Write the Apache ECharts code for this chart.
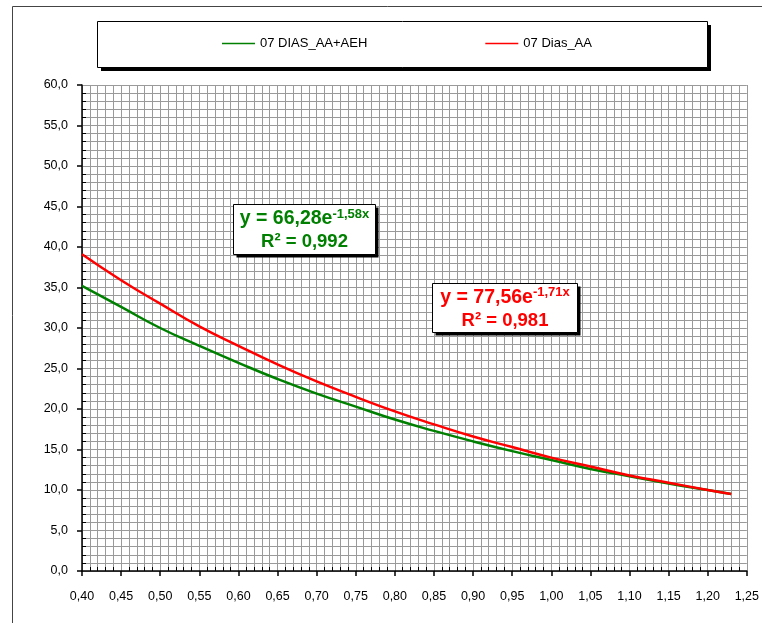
<!DOCTYPE html>
<html>
<head>
<meta charset="utf-8">
<script src="https://cdn.jsdelivr.net/npm/echarts@6/dist/echarts.min.js"></script>
<style>
  html, body { margin: 0; padding: 0; background: #fff; }
  #chart { width: 762px; height: 623px; }
</style>
</head>
<body>
<div id="chart"></div>
<script>
// Dose (x) and measured value (y) for the two series
const xValues = [0.40, 0.45, 0.50, 0.55, 0.60, 0.65, 0.70, 0.75, 0.80, 0.85, 0.90, 0.95, 1.00, 1.05, 1.10, 1.15, 1.20, 1.23];
const diasAaAeh = [35.2, 32.6, 30.0, 27.8, 25.7, 23.7, 21.9, 20.3, 18.7, 17.3, 16.0, 14.8, 13.7, 12.6, 11.7, 10.8, 10.0, 9.5];
const diasAa    = [39.1, 35.9, 33.0, 30.2, 27.8, 25.5, 23.4, 21.5, 19.7, 18.1, 16.6, 15.3, 14.0, 12.9, 11.8, 10.9, 10.0, 9.5];

const seriesNames = ['07 DIAS_AA+AEH', '07 Dias_AA'];
const seriesColors = ['#008000', '#ff0000'];

// Trendline captions
const fitGreen = { coef: '66,28', exp: '-1,58x', r2: '0,992' };
const fitRed   = { coef: '77,56', exp: '-1,71x', r2: '0,981' };

const xMin = 0.40, xMax = 1.25, xStep = 0.05;
const yMin = 0, yMax = 60, yStep = 5;

const pairs = (ys) => xValues.map((x, i) => [x, ys[i]]);
const commaFmt = (d) => (v) => v.toFixed(d).replace('.', ',');

const chart = echarts.init(document.getElementById('chart'), null, { renderer: 'canvas' });

const gridLine = { show: true, lineStyle: { color: '#9a9a9a', width: 1 } };
const fontFamily = 'Liberation Sans, Arial, sans-serif';

function equationBox(x, y, w, h, color, fit) {
  const bold = { fontFamily: fontFamily, fontWeight: 'bold', fill: color, lineHeight: 23 };
  return {
    type: 'group',
    left: x, top: y,
    z: 100,
    children: [
      { type: 'rect', z: 100, shape: { x: 3, y: 3, width: w, height: h }, style: { fill: '#000' } },
      { type: 'rect', z: 101, shape: { x: 0, y: 0, width: w, height: h }, style: { fill: '#fff', stroke: '#000', lineWidth: 1 } },
      {
        type: 'text', z: 102,
        x: w / 2, y: h / 2 + 1,
        style: {
          text: '{a|y = ' + fit.coef + 'e}{s|' + fit.exp + '}\n{b|R² = ' + fit.r2 + '}',
          align: 'center', verticalAlign: 'middle',
          rich: {
            a: Object.assign({ fontSize: 19.5 }, bold),
            b: Object.assign({ fontSize: 18.5 }, bold),
            s: Object.assign({ fontSize: 13, verticalAlign: 'top', padding: [0, 0, 7, 0] }, bold)
          }
        }
      }
    ]
  };
}

chart.setOption({
  animation: false,
  backgroundColor: '#fff',
  grid: { left: 82, right: 13, top: 85, bottom: 52, containLabel: false },
  legend: {
    left: 222, top: 37,
    padding: 0,
    icon: 'rect',
    itemWidth: 33, itemHeight: 1.5, itemGap: 118,
    textStyle: { fontFamily: fontFamily, fontSize: 13, color: '#000' },
    data: seriesNames
  },
  xAxis: [
    {
      type: 'value', min: xMin, max: xMax, interval: xStep, position: 'bottom',
      axisLine: { show: true, onZero: false, lineStyle: { color: '#000', width: 1.5 } },
      axisTick: { show: true, inside: false, length: 5, lineStyle: { color: '#000', width: 1.5 } },
      axisLabel: { margin: 19, color: '#000', fontFamily: fontFamily, fontSize: 12.5, formatter: commaFmt(2) },
      splitLine: gridLine,
      minorTick: { show: false, splitNumber: 5 },
      minorSplitLine: gridLine
    },
    {
      type: 'value', min: xMin, max: xMax, interval: xStep, position: 'bottom',
      axisLine: { show: false, onZero: false },
      axisTick: { show: false, inside: true },
      axisLabel: { show: false },
      splitLine: { show: false },
      minorTick: { show: true, splitNumber: 5, length: 4, lineStyle: { color: '#000', width: 1 } }
    }
  ],
  yAxis: [
    {
      type: 'value', min: yMin, max: yMax, interval: yStep, position: 'left',
      axisLine: { show: true, onZero: false, lineStyle: { color: '#000', width: 1.5 } },
      axisTick: { show: true, inside: false, length: 5, lineStyle: { color: '#000', width: 1.5 } },
      axisLabel: { margin: 14, color: '#000', fontFamily: fontFamily, fontSize: 12.5, formatter: commaFmt(1) },
      splitLine: gridLine,
      minorTick: { show: false, splitNumber: 5 },
      minorSplitLine: gridLine
    },
    {
      type: 'value', min: yMin, max: yMax, interval: yStep, position: 'left',
      axisLine: { show: false, onZero: false },
      axisTick: { show: false, inside: true },
      axisLabel: { show: false },
      splitLine: { show: false },
      minorTick: { show: true, splitNumber: 5, length: 4, lineStyle: { color: '#000', width: 1 } }
    }
  ],
  series: [
    {
      name: seriesNames[0], type: 'line', xAxisIndex: 0, yAxisIndex: 0,
      data: pairs(diasAaAeh), smooth: true, symbol: 'none',
      lineStyle: { color: seriesColors[0], width: 2.5 }, itemStyle: { color: seriesColors[0] }, z: 3
    },
    {
      name: seriesNames[1], type: 'line', xAxisIndex: 0, yAxisIndex: 0,
      data: pairs(diasAa), smooth: true, symbol: 'none',
      lineStyle: { color: seriesColors[1], width: 2.5 }, itemStyle: { color: seriesColors[1] }, z: 4
    }
  ],
  graphic: [
    // chart area frame
    { type: 'rect', z: -10, silent: true, shape: { x: 12.5, y: 6.5, width: 800, height: 700 }, style: { fill: 'none', stroke: '#444', lineWidth: 1 } },
    // legend frame with drop shadow
    { type: 'rect', z: -9, silent: true, shape: { x: 101, y: 25, width: 610, height: 46 }, style: { fill: '#000' } },
    { type: 'rect', z: -8, silent: true, shape: { x: 97.5, y: 21.5, width: 610, height: 46 }, style: { fill: '#fff', stroke: '#000', lineWidth: 1 } },
    equationBox(233, 204, 142, 50, seriesColors[0], fitGreen),
    equationBox(432, 283, 145, 49, seriesColors[1], fitRed)
  ]
});
</script>
</body>
</html>
